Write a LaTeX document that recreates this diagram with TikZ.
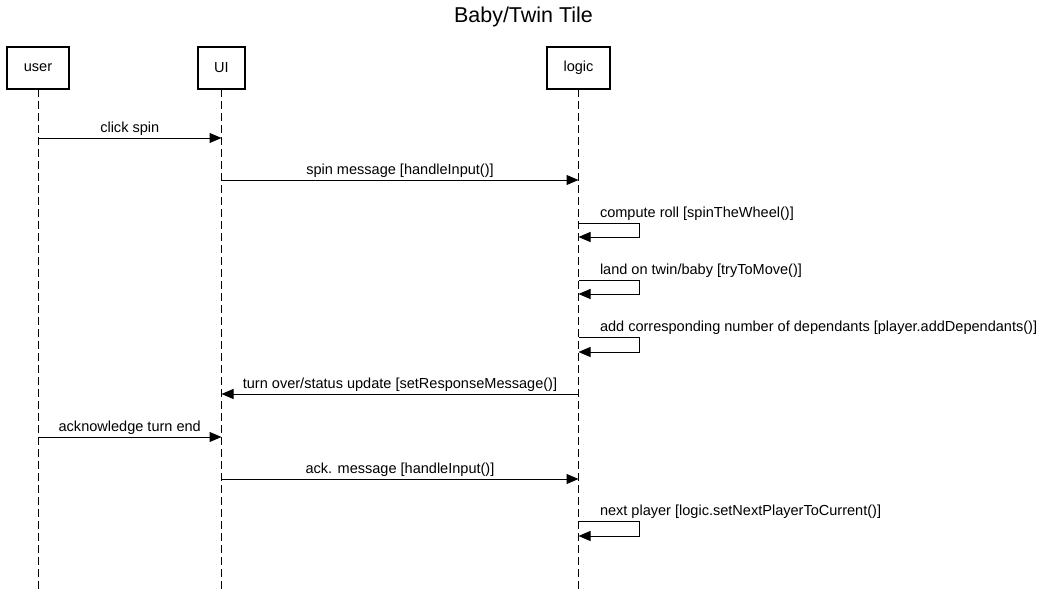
\documentclass[tikz,border=0pt]{standalone}
\usepackage{fontspec}
\setmainfont{Liberation Sans}
\usetikzlibrary{arrows.meta}

\tikzset{
  actor/.style={draw, line width=1.8pt, minimum height=31.5pt, outer sep=0,
    inner sep=0, font=\fontsize{10.9}{13}\selectfont},
  lifeline/.style={line width=0.75pt, dash pattern=on 6pt off 3pt},
  msg/.style={line width=0.75pt, -{Triangle[length=9pt, width=7.5pt]}},
  msglabel/.style={midway, anchor=base, yshift=4.5pt, inner sep=0,
    font=\fontsize{10.9}{13}\selectfont},
  selflabel/.style={pos=0, anchor=base west, xshift=15.75pt, yshift=4.5pt,
    inner sep=0, font=\fontsize{10.9}{13}\selectfont}
}

\begin{document}
\begin{tikzpicture}[x=0.75pt, y=-0.75pt]
    \useasboundingbox (0,0) rectangle (1047,589);

    % Title
    \node[font=\fontsize{16.1}{19}\selectfont] (title) at (523.5,17) {Baby/Twin Tile};

    % Actors
    \node[actor, minimum width=46.5pt] (user) at (38,68) {user};
    \node[actor, minimum width=35.25pt] (UI) at (221.5,68) {UI};
    \node[actor, minimum width=47.25pt] (logic) at (578.5,68) {logic};

    % Lifelines
    \coordinate (bottom) at (0,589);
    \draw[lifeline] (user.south) -- (user |- bottom);
    \draw[lifeline] (UI.south) -- (UI |- bottom);
    \draw[lifeline] (logic.south) -- (logic |- bottom);

    % Message rows
    \coordinate (m1) at (0,138);
    \coordinate (m2) at (0,180);
    \coordinate (m3) at (0,223);
    \coordinate (m4) at (0,280);
    \coordinate (m5) at (0,337);
    \coordinate (m6) at (0,394);
    \coordinate (m7) at (0,437);
    \coordinate (m8) at (0,479);
    \coordinate (m9) at (0,521);

    % Draw Arrows
    \draw[msg] (user |- m1) -- (UI |- m1) node[msglabel] {click spin};
    \draw[msg] (UI |- m2) -- (logic |- m2) node[msglabel] {spin message [handleInput()]};
    \draw[msg] (logic |- m3) -- ++(61,0) node[selflabel] {compute roll [spinTheWheel()]}
      -- ++(0,14) -- ++(-61,0);
    \draw[msg] (logic |- m4) -- ++(61,0) node[selflabel] {land on twin/baby [tryToMove()]}
      -- ++(0,14) -- ++(-61,0);
    \draw[msg] (logic |- m5) -- ++(61,0) node[selflabel] {add corresponding number of dependants [player.addDependants()]}
      -- ++(0,15) -- ++(-61,0);
    \draw[msg] (logic |- m6) -- (UI |- m6) node[msglabel] {turn over/status update [setResponseMessage()]};
    \draw[msg] (user |- m7) -- (UI |- m7) node[msglabel] {acknowledge turn end};
    \draw[msg] (UI |- m8) -- (logic |- m8) node[msglabel] {ack. message [handleInput()]};
    \draw[msg] (logic |- m9) -- ++(61,0) node[selflabel] {next player [logic.setNextPlayerToCurrent()]}
      -- ++(0,15) -- ++(-61,0);
\end{tikzpicture}
\end{document}
